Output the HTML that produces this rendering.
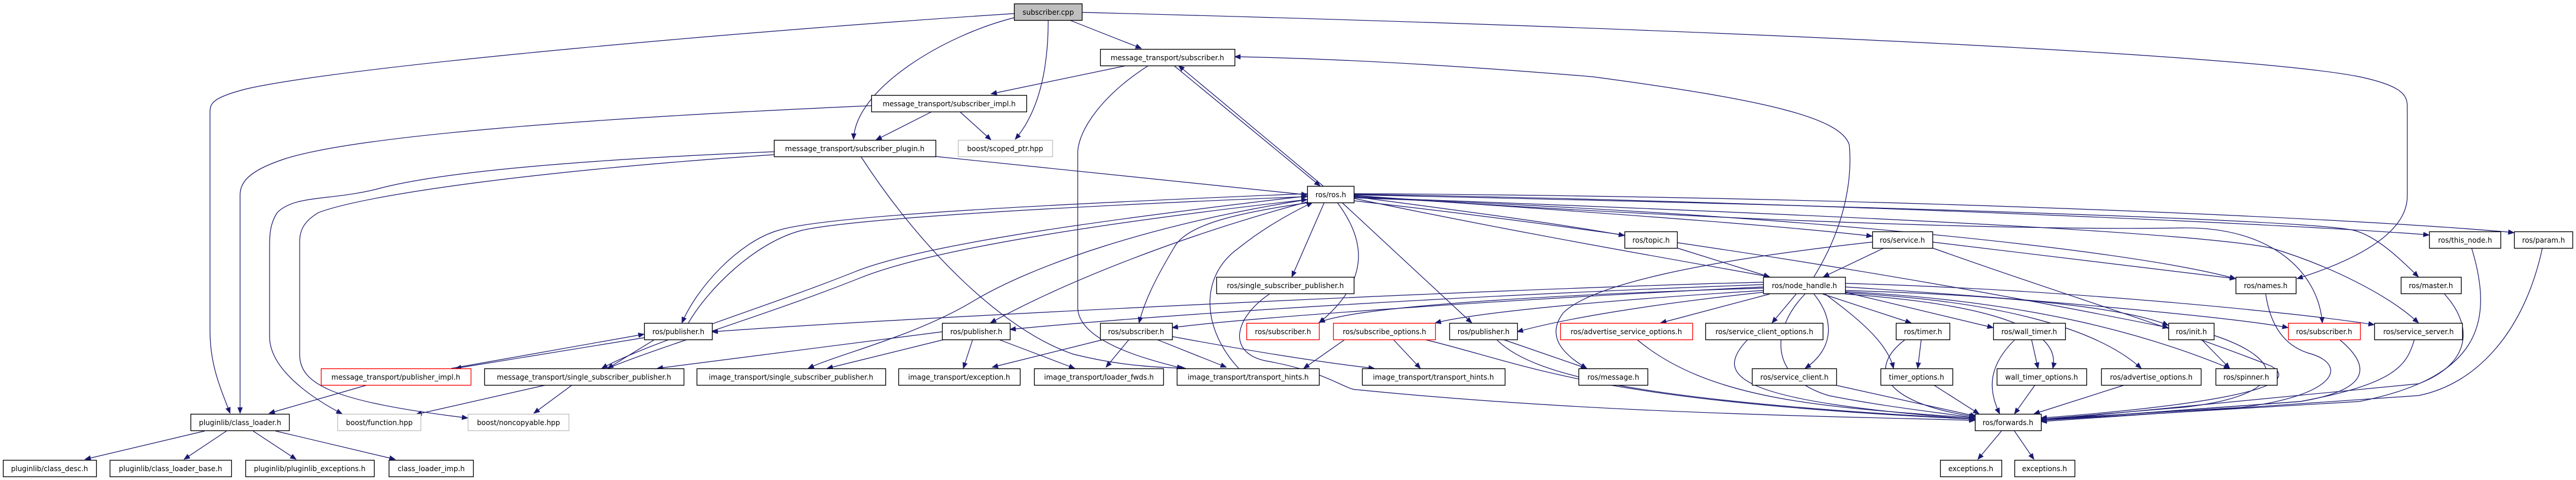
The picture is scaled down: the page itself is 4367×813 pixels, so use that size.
<!DOCTYPE html>
<html><head><meta charset="utf-8"><style>
html,body{margin:0;padding:0;background:#fff;width:4367px;height:813px;overflow:hidden}
svg text{font-family:"DejaVu Sans","Liberation Sans",sans-serif;font-size:12px;fill:#000}
.e{fill:none;stroke:#191970;stroke-width:1.2}
</style></head><body>
<svg width="4367" height="813" viewBox="0 0 4367 813" xmlns="http://www.w3.org/2000/svg">
<defs><marker id="a" markerWidth="11" markerHeight="9" refX="10" refY="4.5" orient="auto" markerUnits="userSpaceOnUse"><path d="M0,0 L11,4.5 L0,9 z" fill="#191970"/></marker></defs>
<g class="e" marker-end="url(#a)">
<path d="M1719,23 C1300,50 600,110 420,150 C360,165 356,175 356,190 L356,560 C356,620 375,660 390,700"/>
<path d="M1719,30 C1600,60 1450,150 1447,236"/>
<path d="M1777,34 C1777,120 1760,190 1721,236"/>
<path d="M1813,34 L1935,82"/>
<path d="M1834,21 C2800,45 3800,90 4000,130 C4070,145 4081,160 4081,180 L4081,332 C4081,400 3980,445 3894,472"/>
<path d="M1910,111 L1680,159"/>
<path d="M1947,111 C1870,160 1827,220 1827,260 L1827,520 C1827,580 1950,610 2005,624"/>
<path d="M1990,111 L2238,315"/>
<path d="M2243,315 L1998,111"/>
<path d="M3075,469 C3130,380 3140,300 3135,245 C3120,200 3000,170 2700,130 C2400,105 2200,98 2093,96"/>
<path d="M1580,189 L1485,237"/>
<path d="M1627,189 L1680,237"/>
<path d="M1477,179 C1000,200 600,230 480,270 C420,290 407,310 407,330 L407,700"/>
<path d="M1586,265 L2216,330"/>
<path d="M1312,257 C1000,270 750,290 640,320 C560,340 500,330 470,360 C457,380 457,400 457,420 L457,570 C457,630 540,680 580,701"/>
<path d="M1312,262 C900,290 620,330 540,360 C515,375 508,390 508,410 L508,600 C508,650 560,680 793,708"/>
<path d="M1460,266 C1560,420 1700,560 1820,600 C1900,620 1960,622 2010,624"/>
<path d="M2216,328 C1800,345 1400,365 1320,390 C1250,410 1180,490 1156,547"/>
<path d="M1167,547 C1200,490 1280,410 1360,390 C1450,370 1800,350 2216,333"/>
<path d="M2216,332 C1800,380 1550,420 1450,460 C1300,520 1100,580 1020,624"/>
<path d="M1030,624 C1110,590 1310,530 1460,470 C1560,430 1800,385 2216,338"/>
<path d="M765,624 L1092,566"/>
<path d="M1092,572 L772,624"/>
<path d="M1110,575 L1030,624"/>
<path d="M623,652 L456,700"/>
<path d="M926,652 L705,702"/>
<path d="M970,652 L905,700"/>
<path d="M347,730 L144,778"/>
<path d="M384,730 L312,778"/>
<path d="M429,730 L502,778"/>
<path d="M467,730 L670,778"/>
<path d="M2216,338 C1950,380 1750,450 1650,510 C1550,570 1420,600 1370,624"/>
<path d="M2216,342 C2000,400 1800,480 1679,547"/>
<path d="M2220,343 C2100,360 2010,380 1990,420 C1960,470 1940,510 1931,547"/>
<path d="M2100,624 C2040,560 2030,470 2100,420 C2150,380 2200,355 2225,343"/>
<path d="M2245,343 L2190,469"/>
<path d="M2267,343 C2310,400 2330,470 2236,547"/>
<path d="M2275,343 L2495,547"/>
<path d="M2295,333 C2500,360 2650,380 2754,399"/>
<path d="M2295,336 C2600,400 2900,450 3000,469"/>
<path d="M2295,331 C2700,360 3000,380 3174,400"/>
<path d="M2295,329 C3000,340 3900,380 4118,398"/>
<path d="M2295,328 C3200,333 4000,370 4262,394"/>
<path d="M2295,330 C3000,345 3900,370 3990,390 C4030,400 4070,440 4100,469"/>
<path d="M2295,335 C3000,360 3600,420 3790,472"/>
<path d="M2295,340 C3000,420 3500,520 3676,555"/>
<path d="M2295,332 C3000,380 3500,390 3700,386 C3850,384 3930,460 3937,547"/>
<path d="M2295,334 C3000,360 3700,390 3850,420 C3950,450 4050,500 4100,547"/>
<path d="M3194,420 L3091,469"/>
<path d="M3174,410 C2900,440 2700,480 2650,530 C2620,570 2650,600 2690,624"/>
<path d="M3276,410 L3790,472"/>
<path d="M3276,420 C3500,500 3700,560 3850,620 C3920,660 3700,690 3460,708"/>
<path d="M2843,420 L3000,469"/>
<path d="M4190,420 C4230,550 4200,640 4000,680 L3460,712"/>
<path d="M4310,420 C4280,560 4200,650 4100,670 L3460,714"/>
<path d="M3841,498 C3850,560 3880,590 3920,600 C3980,620 3960,670 3800,690 L3460,710"/>
<path d="M4144,498 C4200,560 4180,620 4100,650 L3460,712"/>
<path d="M3966,575 C4020,620 4020,660 3900,680 L3460,712"/>
<path d="M4093,575 C4080,620 4060,650 3900,680 L3460,712"/>
<path d="M3732,575 L3780,624"/>
<path d="M3753,568 C3880,610 3880,670 3700,690 L3460,710"/>
<path d="M2989,478 C2500,490 1500,540 1207,562"/>
<path d="M2989,482 C2500,500 2000,530 1712,558"/>
<path d="M2989,486 C2500,510 2100,540 1987,555"/>
<path d="M2989,488 C2600,500 2300,520 2236,546"/>
<path d="M2989,492 C2700,510 2500,530 2433,547"/>
<path d="M2989,495 C2800,515 2650,540 2572,562"/>
<path d="M3000,498 L2815,547"/>
<path d="M3045,498 L3004,547"/>
<path d="M3090,498 L3240,547"/>
<path d="M3075,498 C3110,540 3110,590 3060,624"/>
<path d="M3094,498 C3150,540 3200,580 3210,624"/>
<path d="M3128,495 L3379,555"/>
<path d="M3128,492 C3400,500 3600,520 3676,551"/>
<path d="M3128,486 C3500,510 3800,540 3879,555"/>
<path d="M3128,480 C3500,490 3900,530 4025,550"/>
<path d="M3128,498 C3300,510 3500,540 3480,624"/>
<path d="M3128,496 C3400,510 3560,560 3630,624"/>
<path d="M3128,494 C3450,510 3650,570 3780,624"/>
<path d="M3060,498 C3000,560 3000,640 3100,670 C3200,690 3300,700 3348,708"/>
<path d="M2362,575 L2408,624"/>
<path d="M2280,575 L2210,624"/>
<path d="M2415,575 C2600,620 2700,680 3348,710"/>
<path d="M2548,575 L2690,624"/>
<path d="M2537,575 C2600,640 2800,680 3348,710"/>
<path d="M2775,575 C2900,680 3100,690 3348,708"/>
<path d="M2963,575 C2900,640 2950,680 3348,710"/>
<path d="M3110,652 L3350,705"/>
<path d="M3257,575 L3251,624"/>
<path d="M3230,575 C3170,620 3180,680 3348,706"/>
<path d="M3278,652 L3355,701"/>
<path d="M3444,575 L3455,624"/>
<path d="M3416,575 C3370,620 3370,660 3390,701"/>
<path d="M3450,652 L3415,701"/>
<path d="M3602,652 L3448,701"/>
<path d="M1871,575 L1682,622"/>
<path d="M1914,575 L1875,622"/>
<path d="M1961,575 L2079,622"/>
<path d="M1987,570 C2150,600 2250,615 2330,624"/>
<path d="M1597,562 L1114,624"/>
<path d="M1601,575 L1402,624"/>
<path d="M1649,575 L1633,624"/>
<path d="M1693,575 L1822,624"/>
<path d="M3393,730 L3353,778"/>
<path d="M3415,730 L3448,778"/>
<path d="M2152,498 C2090,540 2080,600 2150,612 C2250,630 2280,660 2300,660 C2700,700 3100,705 3348,712"/>
</g>
<g stroke-width="1.3">
<rect x="1719.5" y="6.5" width="115" height="28" fill="#bfbfbf" stroke="#000"/><text x="1777" y="25" text-anchor="middle">subscriber.cpp</text>
<g fill="#fff" stroke="#000">
<rect x="1865.5" y="83.5" width="228" height="28"/>
<rect x="1477.5" y="161.5" width="263" height="28"/>
<rect x="1312.5" y="237.5" width="274" height="28"/>
<rect x="2216.5" y="315.5" width="79" height="28"/>
<rect x="2754.5" y="392.5" width="89" height="28"/>
<rect x="3174.5" y="392.5" width="102" height="28"/>
<rect x="4118.5" y="392.5" width="121" height="28"/>
<rect x="4262.5" y="392.5" width="99" height="28"/>
<rect x="2062.5" y="469.5" width="233" height="28"/>
<rect x="2989.5" y="469.5" width="139" height="28"/>
<rect x="3790.5" y="469.5" width="102" height="28"/>
<rect x="4070.5" y="469.5" width="102" height="28"/>
<rect x="1092.5" y="547.5" width="115" height="28"/>
<rect x="1597.5" y="547.5" width="115" height="28"/>
<rect x="1865.5" y="547.5" width="122" height="28"/>
<rect x="2457.5" y="547.5" width="115" height="28"/>
<rect x="2891.5" y="547.5" width="199" height="28"/>
<rect x="3214.5" y="547.5" width="91" height="28"/>
<rect x="3379.5" y="547.5" width="122" height="28"/>
<rect x="3676.5" y="547.5" width="77" height="28"/>
<rect x="4025.5" y="547.5" width="149" height="28"/>
<rect x="821.5" y="624.5" width="338" height="28"/>
<rect x="1181.5" y="624.5" width="320" height="28"/>
<rect x="1523.5" y="624.5" width="206" height="28"/>
<rect x="1753.5" y="624.5" width="219" height="28"/>
<rect x="1995.5" y="624.5" width="241" height="28"/>
<rect x="2309.5" y="624.5" width="242" height="28"/>
<rect x="2676.5" y="624.5" width="117" height="28"/>
<rect x="2970.5" y="624.5" width="143" height="28"/>
<rect x="3188.5" y="624.5" width="122" height="28"/>
<rect x="3385.5" y="624.5" width="152" height="28"/>
<rect x="3562.5" y="624.5" width="169" height="28"/>
<rect x="3756.5" y="624.5" width="104" height="28"/>
<rect x="323.5" y="701.5" width="167" height="28"/>
<rect x="3348.5" y="701.5" width="112" height="28"/>
<rect x="5.5" y="779.5" width="158" height="28"/>
<rect x="186.5" y="779.5" width="206" height="28"/>
<rect x="416.5" y="779.5" width="218" height="28"/>
<rect x="659.5" y="779.5" width="143" height="28"/>
<rect x="3289.5" y="779.5" width="104" height="28"/>
<rect x="3415.5" y="779.5" width="102" height="28"/>
</g>
<g fill="#fff" stroke="#ff0000">
<rect x="2113.5" y="547.5" width="123" height="28"/>
<rect x="2260.5" y="547.5" width="173" height="28"/>
<rect x="2645.5" y="547.5" width="224" height="28"/>
<rect x="3879.5" y="547.5" width="122" height="28"/>
<rect x="544.5" y="624.5" width="254" height="28"/>
</g>
<g fill="#fff" stroke="#bfbfbf">
<rect x="1624.5" y="237.5" width="160" height="28"/>
<rect x="572.5" y="701.5" width="141" height="28"/>
<rect x="793.5" y="701.5" width="171" height="28"/>
</g>
</g>
<g text-anchor="middle">
<text x="1979" y="102">message_transport/subscriber.h</text>
<text x="1609" y="180">message_transport/subscriber_impl.h</text>
<text x="1449" y="256">message_transport/subscriber_plugin.h</text>
<text x="1704" y="256">boost/scoped_ptr.hpp</text>
<text x="2256" y="334">ros/ros.h</text>
<text x="2799" y="411">ros/topic.h</text>
<text x="3225" y="411">ros/service.h</text>
<text x="4179" y="411">ros/this_node.h</text>
<text x="4312" y="411">ros/param.h</text>
<text x="2179" y="488">ros/single_subscriber_publisher.h</text>
<text x="3059" y="488">ros/node_handle.h</text>
<text x="3841" y="488">ros/names.h</text>
<text x="4121" y="488">ros/master.h</text>
<text x="1150" y="566">ros/publisher.h</text>
<text x="1655" y="566">ros/publisher.h</text>
<text x="1926" y="566">ros/subscriber.h</text>
<text x="2175" y="566">ros/subscriber.h</text>
<text x="2347" y="566">ros/subscribe_options.h</text>
<text x="2515" y="566">ros/publisher.h</text>
<text x="2757" y="566">ros/advertise_service_options.h</text>
<text x="2991" y="566">ros/service_client_options.h</text>
<text x="3260" y="566">ros/timer.h</text>
<text x="3440" y="566">ros/wall_timer.h</text>
<text x="3715" y="566">ros/init.h</text>
<text x="3940" y="566">ros/subscriber.h</text>
<text x="4100" y="566">ros/service_server.h</text>
<text x="671" y="643">message_transport/publisher_impl.h</text>
<text x="990" y="643">message_transport/single_subscriber_publisher.h</text>
<text x="1341" y="643">image_transport/single_subscriber_publisher.h</text>
<text x="1626" y="643">image_transport/exception.h</text>
<text x="1863" y="643">image_transport/loader_fwds.h</text>
<text x="2116" y="643">image_transport/transport_hints.h</text>
<text x="2430" y="643">image_transport/transport_hints.h</text>
<text x="2735" y="643">ros/message.h</text>
<text x="3042" y="643">ros/service_client.h</text>
<text x="3249" y="643">timer_options.h</text>
<text x="3461" y="643">wall_timer_options.h</text>
<text x="3647" y="643">ros/advertise_options.h</text>
<text x="3808" y="643">ros/spinner.h</text>
<text x="407" y="720">pluginlib/class_loader.h</text>
<text x="643" y="720">boost/function.hpp</text>
<text x="879" y="720">boost/noncopyable.hpp</text>
<text x="3404" y="720">ros/forwards.h</text>
<text x="84" y="798">pluginlib/class_desc.h</text>
<text x="289" y="798">pluginlib/class_loader_base.h</text>
<text x="525" y="798">pluginlib/pluginlib_exceptions.h</text>
<text x="731" y="798">class_loader_imp.h</text>
<text x="3341" y="798">exceptions.h</text>
<text x="3466" y="798">exceptions.h</text>
</g>
</svg>
</body></html>
